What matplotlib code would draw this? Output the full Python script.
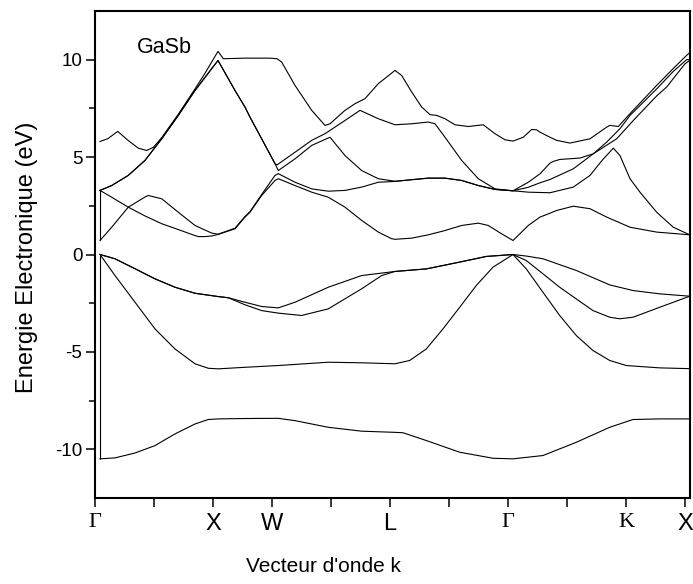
import matplotlib
matplotlib.use("Agg")
import matplotlib.pyplot as plt
from matplotlib.ticker import FixedLocator

# ---------------- data (k in high-symmetry tick units, E in eV) ----------------
tick_pos = [0, 1, 2, 3, 4, 5, 6, 7, 8, 9, 10]
tick_labels = ["Γ", "", "X", "W", "", "L", "", "Γ", "", "K", "X"]
serif_labels = ["Γ", "K"]

# valence bands
v1_k = [0.085, 0.339, 0.678, 1.017, 1.356, 1.695, 1.920, 2.090, 2.542, 3.107, 3.390, 3.954, 4.520,
        5.085, 5.220, 5.615, 6.181, 6.746, 7.085, 7.593, 8.158, 8.724, 9.119, 9.571, 10.080]
v1_E = [-10.49, -10.44, -10.19, -9.81, -9.21, -8.70, -8.47, -8.44, -8.42, -8.41, -8.53, -8.87, -9.07,
        -9.13, -9.15, -9.55, -10.15, -10.46, -10.49, -10.32, -9.64, -8.87, -8.47, -8.44, -8.44]

v2_k = [0.085, 0.339, 0.678, 1.017, 1.356, 1.695, 1.920, 2.090, 2.542, 3.107, 3.954, 4.520, 5.085,
        5.334, 5.615, 5.898, 6.181, 6.463, 6.746, 7.085, 7.310, 7.593, 7.876, 8.158, 8.441, 8.724,
        9.005, 9.571, 10.080]
v2_E = [0.00, -1.08, -2.45, -3.82, -4.85, -5.61, -5.84, -5.87, -5.79, -5.70, -5.53, -5.56, -5.61,
        -5.44, -4.85, -3.82, -2.71, -1.59, -0.65, 0.00, -0.74, -1.94, -3.13, -4.16, -4.93, -5.44,
        -5.70, -5.82, -5.86]

v3_k = [0.085, 0.339, 0.678, 1.017, 1.356, 1.695, 2.090, 2.259, 2.542, 2.825, 3.107, 3.503, 3.954,
        4.520, 4.859, 5.085, 5.615, 6.181, 6.632, 7.085, 7.310, 7.593, 7.876, 8.158, 8.441, 8.724,
        8.893, 9.119, 9.571, 10.080]
v3_E = [0.00, -0.22, -0.73, -1.25, -1.68, -1.99, -2.16, -2.22, -2.58, -2.88, -3.01, -3.13, -2.79,
        -1.76, -1.08, -0.87, -0.74, -0.39, -0.10, 0.00, -0.31, -0.99, -1.68, -2.28, -2.88, -3.22,
        -3.30, -3.22, -2.71, -2.14]

v4_k = [0.085, 0.339, 0.678, 1.017, 1.356, 1.695, 2.090, 2.259, 2.542, 2.825, 3.107, 3.390, 3.954,
        4.520, 5.085, 5.615, 6.181, 6.632, 7.085, 7.310, 7.593, 8.158, 8.724, 9.119, 9.571, 10.080]
v4_E = [0.00, -0.22, -0.73, -1.25, -1.68, -1.99, -2.16, -2.22, -2.45, -2.67, -2.74, -2.45, -1.68,
        -1.08, -0.87, -0.74, -0.39, -0.10, 0.00, -0.08, -0.22, -0.82, -1.56, -1.85, -2.02, -2.14]

# conduction bands
c1_k = [0.085, 0.283, 0.564, 0.847, 1.131, 1.412, 1.695, 1.751, 1.864, 1.978, 2.085, 2.373, 2.542,
        2.627, 2.825, 3.051, 3.107, 3.390, 3.673, 3.954, 4.237, 4.520, 4.802, 5.029, 5.085, 5.368,
        5.649, 5.932, 6.215, 6.497, 6.666, 6.893, 7.085, 7.344, 7.542, 7.712, 7.825, 8.107, 8.390,
        8.673, 9.068, 9.520, 10.080]
c1_E = [0.72, 1.40, 2.43, 1.98, 1.58, 1.28, 0.97, 0.92, 0.92, 0.95, 1.03, 1.32, 1.92,
        2.17, 3.03, 3.80, 3.89, 3.54, 3.20, 2.94, 2.43, 1.75, 1.15, 0.81, 0.78, 0.84,
        1.01, 1.23, 1.49, 1.61, 1.49, 1.06, 0.72, 1.49, 1.92, 2.12, 2.26, 2.48, 2.35,
        1.92, 1.40, 1.15, 1.01]

c2_k = [0.085, 0.283, 0.564, 0.847, 0.903, 1.131, 1.412, 1.695, 1.978, 2.085, 2.373, 2.542, 2.627,
        2.825, 3.051, 3.107, 3.390, 3.673, 3.954, 4.237, 4.520, 4.802, 5.085, 5.368, 5.649, 5.932,
        6.215, 6.497, 6.780, 7.085, 7.344, 7.712, 8.107, 8.390, 8.600, 8.785, 8.898, 9.068, 9.237,
        9.520, 9.802, 10.080]
c2_E = [3.29, 2.94, 2.43, 2.95, 3.03, 2.86, 2.17, 1.49, 1.10, 1.04, 1.35, 1.95, 2.20,
        3.08, 4.06, 4.15, 3.71, 3.37, 3.25, 3.29, 3.46, 3.71, 3.75, 3.84, 3.92, 3.92,
        3.80, 3.54, 3.34, 3.27, 3.20, 3.17, 3.46, 4.06, 4.85, 5.46, 5.08, 3.89, 3.20,
        2.17, 1.40, 1.01]

c3_k = [0.085, 0.283, 0.564, 0.847, 1.131, 1.412, 1.695, 1.978, 2.085, 2.373, 2.542, 2.627, 2.825,
        3.051, 3.107, 3.390, 3.673, 3.983, 4.237, 4.520, 4.802, 5.085, 5.368, 5.649, 5.932, 6.215,
        6.497, 6.780, 7.085, 7.344, 7.542, 7.712, 8.107, 8.446, 8.842, 9.124, 9.520, 9.690, 10.000,
        10.080]
c3_E = [3.29, 3.54, 4.06, 4.83, 5.94, 7.14, 8.42, 9.54, 9.96, 8.42, 7.57, 7.05, 5.94,
        4.66, 4.31, 4.91, 5.60, 6.02, 5.08, 4.31, 3.89, 3.76, 3.84, 3.92, 3.92, 3.80,
        3.54, 3.34, 3.27, 3.45, 3.68, 3.85, 4.40, 5.17, 5.94, 6.88, 8.14, 8.60, 9.79,
        9.96]

c4_k = [0.085, 0.283, 0.564, 0.847, 1.131, 1.412, 1.695, 1.978, 2.085, 2.373, 2.542, 2.627, 2.825,
        3.051, 3.085, 3.390, 3.673, 3.898, 4.237, 4.492, 4.802, 5.085, 5.368, 5.649, 5.763, 5.932,
        6.215, 6.497, 6.780, 7.085, 7.344, 7.542, 7.712, 7.768, 7.881, 8.220, 8.446, 8.673, 8.898,
        9.068, 9.520, 9.802, 10.027, 10.080]
c4_E = [3.29, 3.54, 4.06, 4.83, 5.94, 7.14, 8.42, 9.54, 9.96, 8.42, 7.57, 7.05, 5.94,
        4.66, 4.60, 5.25, 5.86, 6.20, 6.88, 7.40, 6.97, 6.66, 6.71, 6.80, 6.71, 6.02,
        4.83, 3.89, 3.37, 3.27, 3.71, 4.14, 4.69, 4.78, 4.88, 4.95, 5.17, 5.77, 6.46,
        7.14, 8.50, 9.40, 10.00, 10.00]

c5_k = [0.085, 0.220, 0.385, 0.564, 0.734, 0.876, 0.988, 1.131, 1.412, 1.695, 1.864, 2.085, 2.175,
        2.542, 2.966, 3.085, 3.164, 3.390, 3.673, 3.898, 3.983, 4.237, 4.407, 4.576, 4.802, 5.085,
        5.198, 5.368, 5.537, 5.678, 5.792, 5.932, 6.102, 6.327, 6.581, 6.780, 6.949, 7.085, 7.259,
        7.402, 7.486, 7.542, 7.712, 7.825, 8.051, 8.390, 8.673, 8.729, 8.870, 9.068, 9.520, 9.802,
        10.027, 10.080]
c5_E = [5.80, 5.95, 6.32, 5.85, 5.46, 5.34, 5.50, 6.00, 7.20, 8.50, 9.30, 10.43, 10.05,
        10.08, 10.08, 10.05, 9.88, 8.68, 7.40, 6.63, 6.71, 7.40, 7.74, 8.00, 8.77, 9.45,
        9.19, 8.34, 7.57, 7.18, 7.14, 6.97, 6.66, 6.57, 6.66, 6.20, 5.89, 5.82, 6.02,
        6.42, 6.40, 6.28, 6.02, 5.86, 5.72, 5.94, 6.54, 6.63, 6.57, 7.23, 8.68, 9.55,
        10.22, 10.36]

bands = [(v1_k, v1_E), (v2_k, v2_E), (v3_k, v3_E), (v4_k, v4_E),
         (c1_k, c1_E), (c2_k, c2_E), (c3_k, c3_E), (c4_k, c4_E), (c5_k, c5_E)]

# ---------------- figure ----------------
W, H = 693, 584
fig = plt.figure(figsize=(W / 100, H / 100), dpi=100)
ax = fig.add_axes([95 / W, 1 - 498 / H, 595 / W, 487 / H])

lw_band = 0.8
for k, e in bands:
    ax.plot(k, e, color="black", lw=lw_band, solid_joinstyle="round")

# vertical connectors at the starting Gamma point
ax.vlines(v1_k[0], v1_E[0], v2_E[0], color="black", lw=lw_band)
ax.vlines(c1_k[0], c1_E[0], c2_E[0], color="black", lw=lw_band)

ax.set_xlim(0, 10.085)
ax.set_ylim(-12.5, 12.5)

ax.set_yticks([-10, -5, 0, 5, 10])
ax.set_yticklabels(["-10", "-5", "0", "5", "10"])
ax.yaxis.set_minor_locator(FixedLocator([-7.5, -2.5, 2.5, 7.5]))

ax.set_xticks(tick_pos)
ax.set_xticklabels(tick_labels)

for s in ax.spines.values():
    s.set_linewidth(1.5)

ax.tick_params(axis="y", which="major", direction="out", length=6.5, width=1.1,
               labelsize=13.5, pad=2.5)
ax.tick_params(axis="y", which="minor", direction="out", length=4.5, width=1.1)
ax.tick_params(axis="x", which="major", direction="out", length=6.5, width=1.1, pad=4.5)
ax.tick_params(top=False, right=False)

for lab in ax.get_yticklabels():
    lab.set_fontfamily(["Liberation Sans", "DejaVu Sans"])

for lab in ax.get_xticklabels():
    t = lab.get_text()
    if t in serif_labels:
        lab.set_fontfamily(["Liberation Serif", "DejaVu Serif"])
        lab.set_fontsize(16)
    else:
        lab.set_fontfamily(["Liberation Sans", "DejaVu Sans"])
        lab.set_fontsize(17)

ax.text(0.71, 10.32, "GaSb", fontsize=15.5, family=["Liberation Sans", "DejaVu Sans"],
        ha="left", va="baseline")

fig.text(26.7 / W, 1 - 257 / H, "Energie Electronique (eV)", rotation=90,
         ha="center", va="center", fontsize=17, family=["Liberation Sans", "DejaVu Sans"])
fig.text(324 / W, 1 - 567 / H, "Vecteur d'onde k", ha="center", va="center",
         fontsize=15, family=["Liberation Sans", "DejaVu Sans"])

fig.savefig("out.png", dpi=100)
